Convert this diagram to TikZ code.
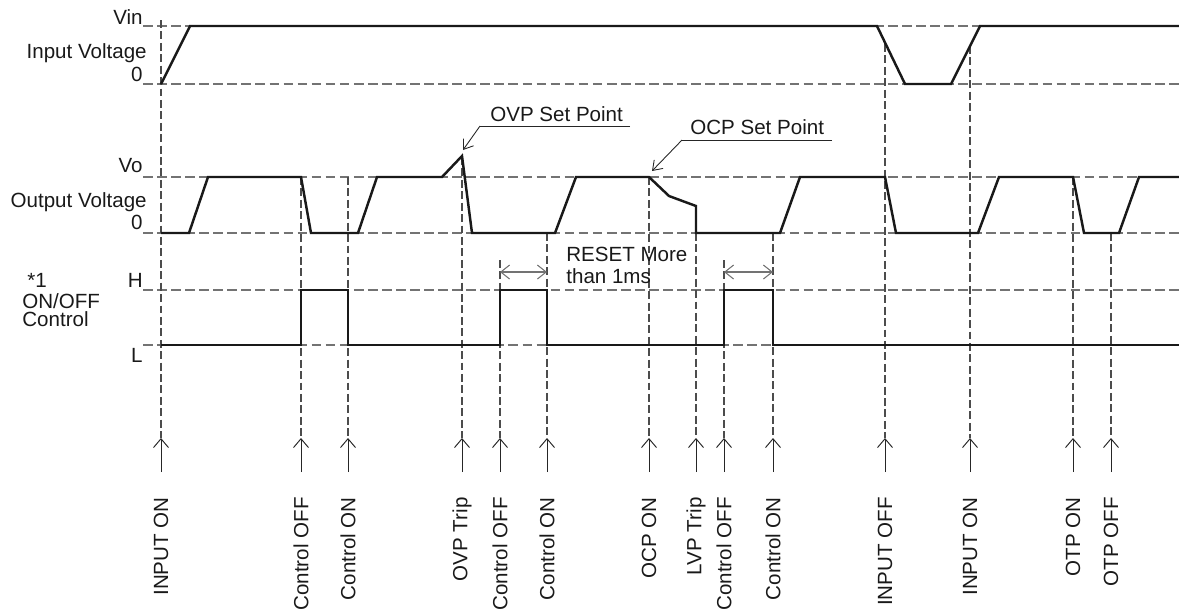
\documentclass[tikz,border=0pt]{standalone}
\usepackage{fontspec}
\setmainfont{Liberation Sans}
\usetikzlibrary{arrows.meta}
\begin{document}
\begin{tikzpicture}[x=0.02cm,y=-0.02cm,
  wave/.style={line width=1.4pt, black!90, line join=miter},
  hdash/.style={black!55, line width=0.6pt, dash pattern=on 5.5pt off 2.5pt},
  vdash/.style={black!70, line width=0.6pt, dash pattern=on 4.5pt off 2pt},
  lbl/.style={font=\fontsize{11.7}{14}\selectfont, text=black!90, inner sep=0pt},
  ev/.style={lbl, rotate=90, anchor=east},
  evarrow/.style={-{Straight Barb[length=5pt,width=8.5pt]}, line width=0.55pt, black!85},
  dimarrow/.style={{Straight Barb[length=5pt,width=8pt]}-{Straight Barb[length=5pt,width=8pt]}, line width=0.6pt, black!55},
  leader/.style={-{Straight Barb[length=5pt,width=7pt]}, line width=0.5pt, black!85},
  uline/.style={line width=0.5pt, black!85}
]
\useasboundingbox (0,0) rectangle (1179,610);

% horizontal reference levels
\foreach \y in {26,84,177,233,290,345}
  \draw[hdash] (143,\y) -- (1179,\y);

% vertical event lines, arrows and labels
\foreach \x/\yt/\txt [count=\i] in {
  161/20/INPUT ON,
  301/177/Control OFF,
  348/177/Control ON,
  462/157/OVP Trip,
  500/260/Control OFF,
  547/233/Control ON,
  649/177/OCP ON,
  696/233/LVP Trip,
  724/260/Control OFF,
  773/233/Control ON,
  885/44/INPUT OFF,
  970/46/INPUT ON,
  1073/177/OTP ON,
  1111/233/OTP OFF}{
  \coordinate (t\i) at (\x,\yt);
  \coordinate (b\i) at (\x,438);
  \coordinate (a\i) at (\x,472);
  \draw[vdash] (t\i) -- (b\i);
  \draw[evarrow] (a\i) -- (b\i);
  \node[ev] (ev\i) at (\x,497) {\txt};
}

% waveforms
\draw[wave] (161,84) -- (190,26) -- (877,26) -- (905,84) -- (951,84) -- (980,26) -- (1179,26);
\draw[wave] (161,233) -- (189,233) -- (208,177) -- (301,177) -- (311,233) -- (358,233)
  -- (377,177) -- (442,177) -- (462,156) -- (472,233) -- (555,233) -- (576,177)
  -- (649,177) -- (669,196) -- (696,206) -- (696,233) -- (780,233) -- (800,177)
  -- (885,177) -- (896,233) -- (978,233) -- (999,177) -- (1073,177) -- (1084,233)
  -- (1119,233) -- (1139,177) -- (1179,177);
\draw[wave] (161,345) -- (301,345) -- (301,290) -- (348,290) -- (348,345) -- (500,345)
  -- (500,290) -- (547,290) -- (547,345) -- (724,345) -- (724,290) -- (773,290)
  -- (773,345) -- (1179,345);

% left labels
\node[lbl, anchor=base east] (vin) at (143,24) {Vin};
\node[lbl, anchor=base east] (inv) at (147,58) {Input Voltage};
\node[lbl, anchor=base east] (in0) at (143,81) {0};
\node[lbl, anchor=base east] (vo) at (143,172) {Vo};
\node[lbl, anchor=base east] (outv) at (147,207) {Output Voltage};
\node[lbl, anchor=base east] (out0) at (143,229) {0};
\node[lbl, anchor=base west] (star) at (27,287) {*1};
\node[lbl, anchor=base east] (hh) at (143,287) {H};
\node[lbl, anchor=base west] (onoff) at (22,308) {ON/OFF};
\node[lbl, anchor=base west] (ctrl) at (22,326) {Control};
\node[lbl, anchor=base east] (ll) at (143,362) {L};

% set point callouts
\node[lbl, anchor=base west] (ovp) at (490,121) {OVP Set Point};
\coordinate (ovpl) at (480,126);
\coordinate (ovpr) at (630,126);
\coordinate (ovpt) at (463,150);
\draw[uline] (ovpr) -- (ovpl);
\draw[leader] (ovpl) -- (ovpt);

\node[lbl, anchor=base west] (ocp) at (690,134) {OCP Set Point};
\coordinate (ocpl) at (682,140);
\coordinate (ocpr) at (832,140);
\coordinate (ocpt) at (652,171);
\draw[uline] (ocpr) -- (ocpl);
\draw[leader] (ocpl) -- (ocpt);

% reset dimension
\node[lbl, anchor=base west] (rst1) at (566,261) {RESET More};
\node[lbl, anchor=base west] (rst2) at (566,283) {than 1ms};
\coordinate (d1l) at (500,272);
\coordinate (d1r) at (547,272);
\coordinate (d2l) at (724,272);
\coordinate (d2r) at (773,272);
\draw[dimarrow] (d1l) -- (d1r);
\draw[dimarrow] (d2l) -- (d2r);
\end{tikzpicture}
\end{document}
